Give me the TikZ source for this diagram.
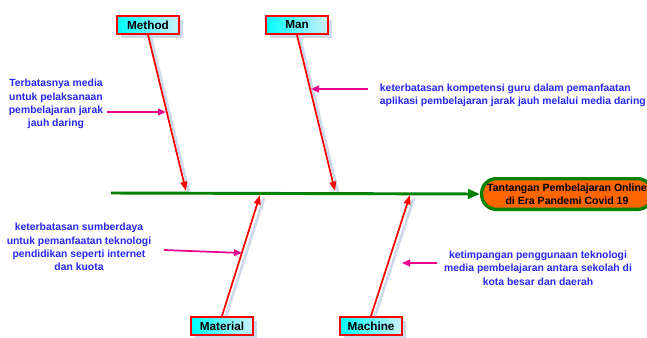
\documentclass[tikz,border=0pt]{standalone}
\usepackage{fontspec}
\setmainfont{Liberation Sans}
\usetikzlibrary{arrows.meta,shadows}
\definecolor{notecol}{RGB}{40,40,240}
\definecolor{spinecol}{RGB}{0,128,0}
\definecolor{headcol}{RGB}{255,102,0}
\definecolor{shadecol}{RGB}{205,218,238}
\definecolor{boxlight}{RGB}{205,240,250}

\begin{document}
\begin{tikzpicture}[x=0.75pt,y=-0.75pt,
	cause/.style={draw=red, line width=1.5pt, left color=cyan, right color=boxlight,
		minimum width=46.5pt, minimum height=13.5pt, inner sep=0pt,
		font=\fontsize{8.8}{10}\selectfont\bfseries,
		drop shadow={shadow xshift=3pt, shadow yshift=-3pt, fill=shadecol, opacity=1}},
	effect/.style={draw=spinecol, line width=2.5pt, fill=headcol, rounded corners=11pt,
		minimum width=128pt, minimum height=23pt, inner sep=0pt, align=center,
		font=\fontsize{7.9}{9.8}\selectfont\bfseries},
	note/.style={text=notecol, inner sep=2pt, font=\fontsize{7.8}{10}\selectfont\bfseries},
	bone/.style={draw=red, line width=1.3pt, -{Triangle[length=7pt,width=5pt]}},
	boneshadow/.style={draw=shadecol, line width=2pt},
	pointer/.style={draw=magenta, line width=1.3pt, -{Triangle[length=6pt,width=5pt]}},
	spine/.style={draw=spinecol, line width=2.2pt, -{Triangle[length=9pt,width=7pt]}}]
	\useasboundingbox (0,0) rectangle (647,337);
	
	%%%%% causes %%%%%
	\node[cause] (method) at (148,25) {Method};
	\node[cause] (man) at (297,25) {Man};
	\node[cause] (material) at (222,326) {Material};
	\node[cause] (machine) at (371,326) {Machine};
	
	\coordinate (jmethod) at (186,191);
	\coordinate (jman) at (335,191);
	\coordinate (jmaterial) at (260,195);
	\coordinate (jmachine) at (410,195);
	
	\draw[boneshadow] ([shift={(3,3)}]method.south) -- ([shift={(3,1)}]jmethod);
	\draw[boneshadow] ([shift={(3,3)}]man.south) -- ([shift={(3,1)}]jman);
	\draw[boneshadow] ([shift={(4,0)}]material.north) -- ([shift={(4,3)}]jmaterial);
	\draw[boneshadow] ([shift={(4,0)}]machine.north) -- ([shift={(4,3)}]jmachine);
	
	%%%%% spine and head %%%%%
	\coordinate (tail) at (111,193);
	\node[effect] (head) at (567,194) {Tantangan Pembelajaran Online\\di Era Pandemi Covid 19};
	\draw[spine] (tail) -- (head.west);
	
	\draw[bone] (method.south) -- (jmethod);
	\draw[bone] (man.south) -- (jman);
	\draw[bone] (material.north) -- (jmaterial);
	\draw[bone] (machine.north) -- (jmachine);
	
	%%%%% notes %%%%%
	\node[note, align=center] (nmethod) at (56,104) {Terbatasnya media\\untuk pelaksanaan\\pembelajaran jarak\\jauh daring};
	\node[note, align=left, anchor=west] (nman) at (377,95.5) {keterbatasan kompetensi guru dalam pemanfaatan\\aplikasi pembelajaran jarak jauh melalui media daring};
	\node[note, align=center] (nmaterial) at (79,247) {keterbatasan sumberdaya\\untuk pemanfaatan teknologi\\pendidikan seperti internet\\dan kuota};
	\node[note, align=center] (nmachine) at (538,268) {ketimpangan penggunaan teknologi\\media pembelajaran antara sekolah di\\kota besar dan daerah};
	
	\coordinate (smethod) at (107,112);
	\coordinate (amethod) at (166,112);
	\coordinate (sman) at (368,89);
	\coordinate (aman) at (311,89);
	\coordinate (smaterial) at (164,250);
	\coordinate (amaterial) at (242,253);
	\coordinate (smachine) at (437,263);
	\coordinate (amachine) at (402,263);
	
	\draw[pointer] (smethod) -- (amethod);
	\draw[pointer] (sman) -- (aman);
	\draw[pointer] (smaterial) -- (amaterial);
	\draw[pointer] (smachine) -- (amachine);
\end{tikzpicture}
\end{document}
